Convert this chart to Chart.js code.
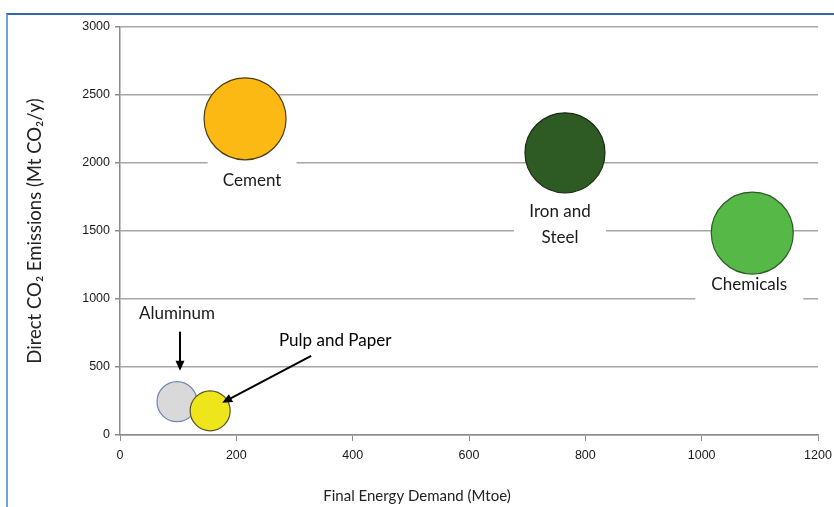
<!DOCTYPE html>
<html>
<head>
<meta charset="utf-8">
<script src="https://cdn.jsdelivr.net/npm/chart.js@4.4.1/dist/chart.umd.min.js"></script>
<style>
  html, body { margin: 0; padding: 0; background: #fff; }
  #wrap { position: relative; width: 834px; height: 507px; overflow: hidden; }
  #frame { position: absolute; left: 6px; top: 13px; right: -10px; bottom: -10px;
           border-left: 2px solid #74a0d6; border-top: 2px solid #3566a6; }
  #chart { position: absolute; left: 0; top: 0; }
</style>
</head>
<body>
<div id="wrap">
  <div id="frame"></div>
  <canvas id="chart" width="834" height="507"></canvas>
</div>
<script>
// Data
const industries = ['Cement', 'Iron and Steel', 'Chemicals', 'Aluminum', 'Pulp and Paper'];
const energyDemand = [215, 765, 1087, 98, 155];     // Mtoe
const co2Emissions = [2325, 2075, 1485, 245, 178];  // Mt CO2/y
const bubbleSize = [41, 40, 41, 20, 20];
const xTicks = [0, 200, 400, 600, 800, 1000, 1200];
const yTicks = [0, 500, 1000, 1500, 2000, 2500, 3000];
const xTitle = 'Final Energy Demand (Mtoe)';
const yTitle = 'Direct CO\u2082 Emissions (Mt CO\u2082/y)';

const fillColors = ['#FDB913', '#2E5B24', '#56B847', '#D9D9D9', '#EEE51A'];
const edgeColors = ['#4a3c14', '#1a2a14', '#2c5a25', '#6f86b5', '#555533'];

const textFont = '17px Lato, "Open Sans", sans-serif';

// label placement relative to each bubble (px), box = white backing
const labelLayout = [
    { dx: 7, dy: 62, box: [89, 40] },
    { dx: -5, dy: 72, box: [92, 62], lines: ['Iron and', 'Steel'] },
    { dx: -3, dy: 51, box: [108, 36] },
    { dx: 0, dy: -88, arrow: [3, -70, 3, -31] },
    { dx: 125, dy: -70, arrow: [101, -55, 12, -8] }
];

function drawArrow(ctx, x1, y1, x2, y2) {
    const ang = Math.atan2(y2 - y1, x2 - x1);
    const len = 10, half = 4.5;
    ctx.beginPath();
    ctx.moveTo(x1, y1);
    ctx.lineTo(x2 - Math.cos(ang) * len * 0.8, y2 - Math.sin(ang) * len * 0.8);
    ctx.lineWidth = 2;
    ctx.strokeStyle = '#000';
    ctx.stroke();
    ctx.beginPath();
    ctx.moveTo(x2, y2);
    ctx.lineTo(x2 - Math.cos(ang) * len + Math.sin(ang) * half, y2 - Math.sin(ang) * len - Math.cos(ang) * half);
    ctx.lineTo(x2 - Math.cos(ang) * len - Math.sin(ang) * half, y2 - Math.sin(ang) * len + Math.cos(ang) * half);
    ctx.closePath();
    ctx.fillStyle = '#000';
    ctx.fill();
}

const industryLabels = {
    id: 'industryLabels',
    beforeDatasetsDraw(chart) {
        // white backing boxes cut the gridlines, drawn under the bubbles
        const ctx = chart.ctx;
        const pts = chart.getDatasetMeta(0).data;
        ctx.save();
        labelLayout.forEach((l, i) => {
            if (!l.box) return;
            const cx = pts[i].x + l.dx, cy = pts[i].y + l.dy;
            ctx.fillStyle = '#fff';
            ctx.fillRect(cx - l.box[0] / 2, cy - l.box[1] / 2, l.box[0], l.box[1]);
        });
        ctx.restore();
    },
    afterDatasetsDraw(chart) {
        const ctx = chart.ctx;
        const pts = chart.getDatasetMeta(0).data;
        ctx.save();
        ctx.font = textFont;
        ctx.fillStyle = '#1a1a1a';
        ctx.textAlign = 'center';
        ctx.textBaseline = 'middle';
        labelLayout.forEach((l, i) => {
            const px = pts[i].x, py = pts[i].y;
            const lines = l.lines || [industries[i]];
            const lh = 26;
            lines.forEach((t, k) => {
                ctx.fillText(t, px + l.dx, py + l.dy + (k - (lines.length - 1) / 2) * lh);
            });
            if (l.arrow) {
                drawArrow(ctx, px + l.arrow[0], py + l.arrow[1], px + l.arrow[2], py + l.arrow[3]);
            }
        });
        // x axis title sits centred on the whole figure, not the plot
        ctx.font = '15px Lato, "Open Sans", sans-serif';
        ctx.fillStyle = '#222';
        ctx.fillText(xTitle, chart.width / 2, 496);
        ctx.restore();
    }
};

const tickFont = { family: '"Liberation Sans", Arial', size: 12.5 };

new Chart(document.getElementById('chart'), {
    type: 'bubble',
    data: {
        datasets: [{
            label: 'Industry',
            data: industries.map((n, i) => ({ x: energyDemand[i], y: co2Emissions[i], r: bubbleSize[i] })),
            backgroundColor: fillColors,
            borderColor: edgeColors,
            borderWidth: 1.2
        }]
    },
    options: {
        responsive: false,
        animation: false,
        layout: { autoPadding: false, padding: { left: 0, right: 16, top: 27, bottom: 0 } },
        plugins: {
            legend: { display: false },
            tooltip: { enabled: false }
        },
        scales: {
            x: {
                type: 'linear',
                min: 0,
                max: 1200,
                afterFit: s => { s.height = 72; s.paddingLeft = 0; s.paddingRight = 0; },
                afterBuildTicks: s => { s.ticks = xTicks.map(v => ({ value: v })); },
                grid: { drawOnChartArea: false, drawTicks: true, tickLength: 6, color: '#8c8c8c' },
                border: { display: true, color: '#8c8c8c', width: 1.5 },
                ticks: { color: '#1a1a1a', font: tickFont, padding: 7, maxRotation: 0, callback: v => String(v) },
                title: { display: false }
            },
            y: {
                type: 'linear',
                min: 0,
                max: 3000,
                afterFit: s => { s.width = 120; s.paddingTop = 0; s.paddingBottom = 0; },
                afterBuildTicks: s => { s.ticks = yTicks.map(v => ({ value: v })); },
                grid: { color: '#a6a6a6', lineWidth: 1.5, drawTicks: true, tickLength: 5, tickColor: '#8c8c8c' },
                border: { display: true, color: '#8c8c8c', width: 1.5 },
                ticks: { color: '#1a1a1a', font: tickFont, padding: 5, callback: v => String(v) },
                title: {
                    display: true,
                    text: yTitle,
                    color: '#222',
                    font: { family: 'Lato, "Open Sans", sans-serif', size: 18.5 },
                    padding: { top: 24, bottom: 0 }
                }
            }
        }
    },
    plugins: [industryLabels]
});
</script>
</body>
</html>
